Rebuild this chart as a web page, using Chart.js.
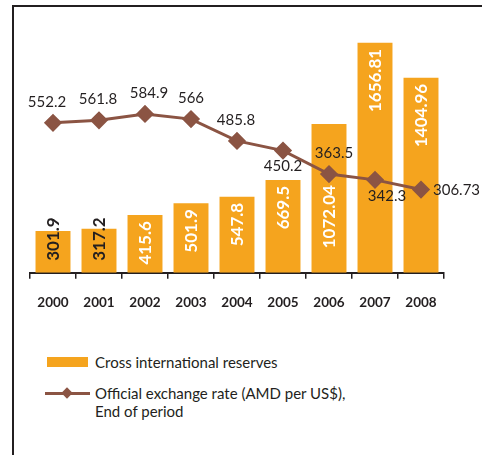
<!DOCTYPE html>
<html>
<head>
<meta charset="utf-8">
<script src="https://cdn.jsdelivr.net/npm/chart.js@4.4.0/dist/chart.umd.min.js"></script>
<style>
body{margin:0;background:#fff;font-family:Lato,"Open Sans",sans-serif;}
#wrap{position:relative;width:482px;height:455px;overflow:hidden;}
#frame{position:absolute;left:12px;top:5px;width:480px;height:460px;border-left:2px solid #231f20;border-top:2px solid #231f20;}
#box{position:absolute;left:0;top:0;width:482px;height:335px;}
.leg{position:absolute;color:#231f20;font-size:15px;line-height:18px;}
</style>
</head>
<body>
<div id="wrap">
<div id="frame"></div>
<div id="box"><canvas id="chart"></canvas></div>
<div style="position:absolute;left:47px;top:357px;width:41px;height:10px;background:#f5a41e"></div>
<div class="leg" style="left:95px;top:353px">Cross international reserves</div>
<div style="position:absolute;left:45px;top:392px;width:45px;height:3px;background:#8b5443"></div>
<div style="position:absolute;left:63px;top:389px;width:8px;height:8px;background:#8b5443;transform:rotate(45deg)"></div>
<div class="leg" style="left:95px;top:384px">Official exchange rate (AMD per US$),<br>End of period</div>
</div>
<script>
const years = ["2000","2001","2002","2003","2004","2005","2006","2007","2008"]
const reserves = [301.9,317.2,415.6,501.9,547.8,669.5,1072.04,1656.81,1404.96]
const reserveLabels = ["301.9","317.2","415.6","501.9","547.8","669.5","1072.04","1656.81","1404.96"]
const exchangeRate = [552.2,561.8,584.9,566,485.8,450.2,363.5,342.3,306.73]
const rateLabels = ["552.2","561.8","584.9","566","485.8","450.2","363.5","342.3","306.73"]

// where each exchange-rate label sits relative to its point
const ratePos = ["top","top","top","top","top","bottom","top","bottom","right"]
const rateDx = [-6,-1,4,0,-1,0,5,12,12]

const labelPlugin={
id:"labels",
afterDatasetsDraw(chart){
const c=chart.ctx
const bars=chart.getDatasetMeta(0).data
const pts=chart.getDatasetMeta(1).data
const base=chart.chartArea.bottom
c.save()
c.font="bold 17px Lato"
c.textBaseline="middle"
bars.forEach((b,i)=>{
const txt=reserveLabels[i]
const w=c.measureText(txt).width
let top=b.y+6
let color="#ffffff"
const p=pts[i]
if(top<p.y+12 && top+w>p.y-8){ top=p.y+11 }
if(top+w>base-6){ top=base-12-w; color="#231f20" }
c.save()
c.translate(b.x,top+w/2)
c.rotate(-Math.PI/2)
c.fillStyle=color
c.textAlign="center"
c.fillText(txt,0,1)
c.restore()
})
c.font="15px Lato"
c.fillStyle="#231f20"
pts.forEach((p,i)=>{
const txt=rateLabels[i]
if(ratePos[i]=="top"){c.textAlign="center";c.fillText(txt,p.x+rateDx[i],p.y-21)}
else if(ratePos[i]=="bottom"){c.textAlign="center";c.fillText(txt,p.x+rateDx[i],p.y+16)}
else{c.textAlign="left";c.fillText(txt,p.x+rateDx[i],p.y+1)}
})
c.restore()
}
}

new Chart(document.getElementById("chart"),{
data:{
labels:years,
datasets:[{
type:"bar",
data:reserves,
backgroundColor:"#f5a41e",
barPercentage:0.76,
categoryPercentage:1,
yAxisID:"y",
order:2
},{
type:"line",
data:exchangeRate,
borderColor:"#8b5443",
backgroundColor:"#8b5443",
borderWidth:3,
pointStyle:"rectRot",
pointRadius:7,
pointHoverRadius:7,
tension:0,
yAxisID:"y1",
order:1
}]
},
options:{
responsive:true,
maintainAspectRatio:false,
animation:false,
layout:{padding:{left:30,right:38,top:23,bottom:8}},
plugins:{legend:{display:false},tooltip:{enabled:false}},
scales:{
x:{
offset:true,
grid:{offset:true,drawOnChartArea:false,color:"#231f20",lineWidth:1.5,tickLength:6},
border:{color:"#231f20",width:2},
ticks:{color:"#231f20",font:{family:"Lato",weight:"bold",size:13.5},padding:16}
},
y:{display:false,min:0,max:1800},
y1:{display:false,min:0,max:920}
}
},
plugins:[labelPlugin]
})
</script>
</body>
</html>
